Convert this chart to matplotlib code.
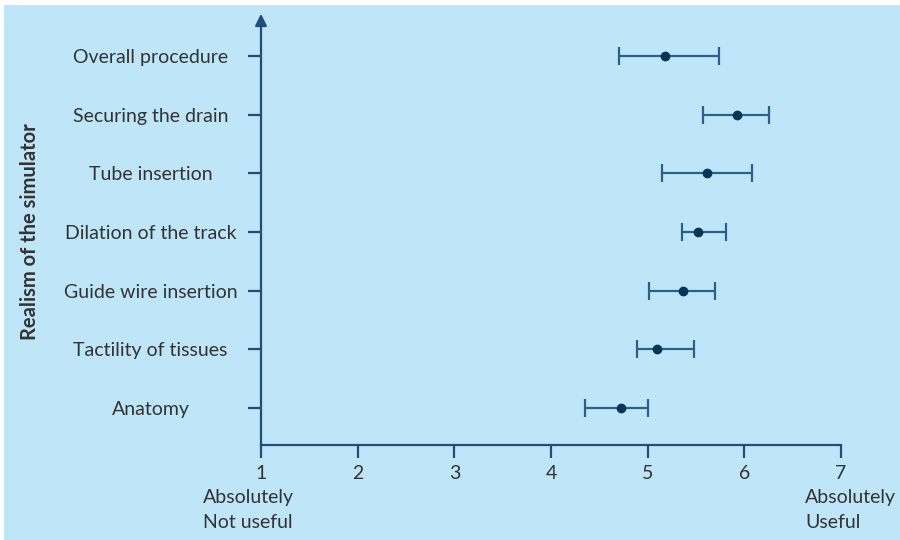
import numpy as np
import matplotlib
matplotlib.use('Agg')
import matplotlib.pyplot as plt
from matplotlib.patches import Rectangle

# items, bottom to top
items = ['Anatomy', 'Tactility of tissues', 'Guide wire insertion',
         'Dilation of the track', 'Tube insertion', 'Securing the drain',
         'Overall procedure']
mean = [4.72, 5.10, 5.37, 5.52, 5.61, 5.92, 5.18]
low = [4.35, 4.89, 5.01, 5.35, 5.15, 5.57, 4.70]
high = [5.00, 5.48, 5.70, 5.81, 6.08, 6.26, 5.74]
xticks = [1, 2, 3, 4, 5, 6, 7]

plt.rcParams['font.family'] = ['Lato', 'DejaVu Sans']
bg = '#bee6f8'
axcol = '#1f4e79'
txt = '#333333'
fs = 14

fig = plt.figure(figsize=(9, 5.4), dpi=100, facecolor='white')
fig.patches.append(Rectangle((4/900, 0), 1, 1 - 5/540, transform=fig.transFigure,
                             facecolor=bg, edgecolor='none', zorder=-10))
ax = fig.add_axes([261/900, 1 - 445/540, 580/900, 430/540])
ax.set_facecolor('none')

y = np.arange(len(items))
mean = np.array(mean)
err = np.array([mean - np.array(low), np.array(high) - mean])
ax.errorbar(mean, y, xerr=err, fmt='o', color='#0a3358', ms=6,
            ecolor='#2c5f8a', elinewidth=1.6, capsize=6.5, capthick=1.6)

ax.set_xlim(1, 7)
ax.set_ylim(-0.63, 6.7)
for s in ['top', 'right', 'left']:
    ax.spines[s].set_visible(False)
ax.spines['bottom'].set_color(axcol)
ax.spines['bottom'].set_linewidth(1.6)
ax.annotate('', xy=(1, 6.72), xytext=(1, -0.63), xycoords='data',
            arrowprops=dict(arrowstyle='-|>,head_width=0.35,head_length=0.7',
                            color=axcol, lw=1.6, shrinkA=0, shrinkB=0),
            annotation_clip=False)

ax.set_xticks(xticks)
ax.set_xticklabels([str(t) for t in xticks])
ax.set_yticks(y)
ax.set_yticklabels(items, ha='center')
ax.tick_params(axis='x', length=9.5, width=1.6, color=axcol, labelsize=fs,
               labelcolor=txt, pad=5)
ax.tick_params(axis='y', length=9.5, width=1.6, color=axcol, labelsize=fs,
               labelcolor=txt, pad=70)

ax.text(0.40, -0.102, 'Absolutely\nNot useful', transform=ax.get_xaxis_transform(),
        ha='left', va='top', fontsize=fs, color=txt, linespacing=1.6)
ax.text(6.63, -0.102, 'Absolutely\nUseful', transform=ax.get_xaxis_transform(),
        ha='left', va='top', fontsize=fs, color=txt, linespacing=1.6)

fig.text(30/900, 1 - 232/540, 'Realism of the simulator', rotation=90,
         ha='center', va='center', fontsize=14.5, fontweight='bold', color=txt)

fig.savefig('out.png', dpi=100, facecolor='white')
